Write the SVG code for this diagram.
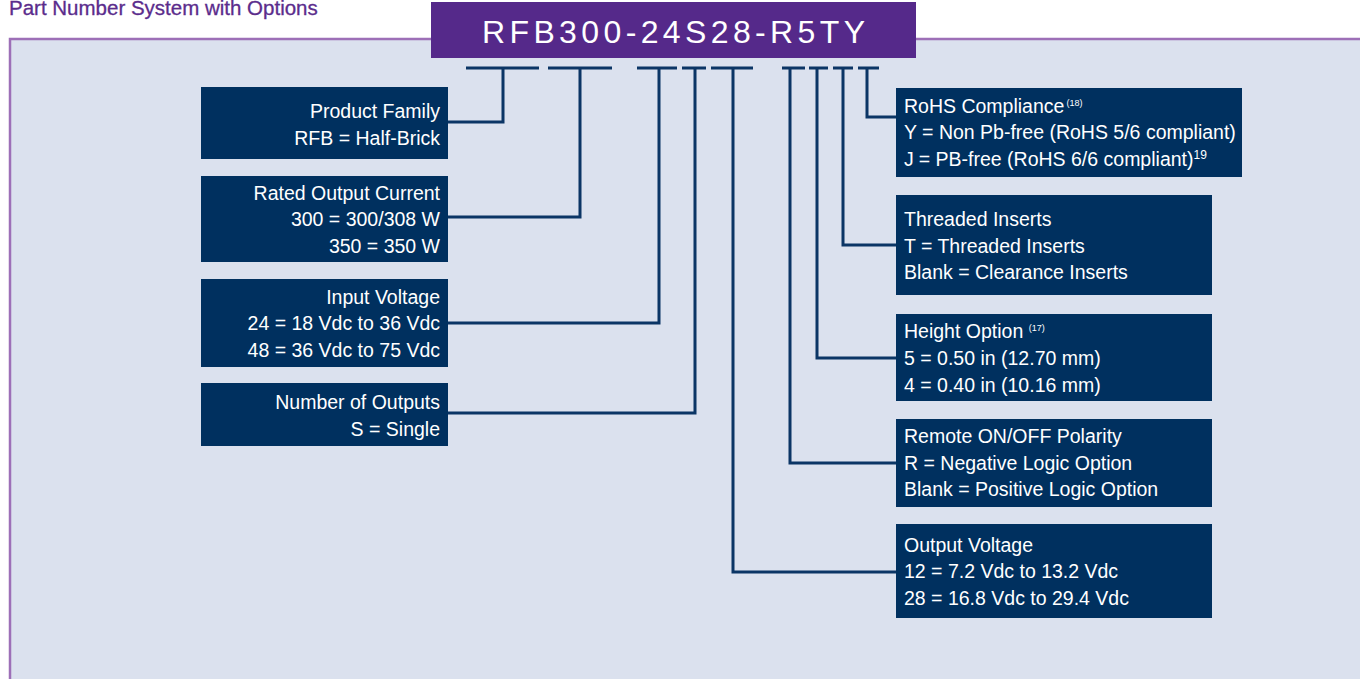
<svg xmlns="http://www.w3.org/2000/svg" width="1360" height="679" viewBox="0 0 1360 679">
<style>
.box{fill:#00305f}
.t{font-family:"Liberation Sans",Arial,sans-serif;font-size:19.5px;fill:#ffffff}
.r{text-anchor:end}
.sup{font-size:9px}
.sup2{font-size:12px}
.ln{fill:none;stroke:#0b3565;stroke-width:3}
</style>
<rect x="0" y="0" width="1360" height="679" fill="#ffffff"/>
<text x="9" y="15" font-family="'Liberation Sans',Arial,sans-serif" font-size="20.5" fill="#5b2c8c" stroke="#5b2c8c" stroke-width="0.3">Part Number System with Options</text>
<rect x="10" y="39" width="1352" height="645" fill="#dbe1ee" stroke="#9d6fb7" stroke-width="2.5"/>
<g id="header">
<rect x="431" y="2" width="485" height="56" fill="#55298a"/>
<text x="482" y="43" font-family="'Liberation Sans',Arial,sans-serif" font-size="32" fill="#ffffff" textLength="383" lengthAdjust="spacing">RFB300-24S28-R5TY</text>
</g>
<g id="connectors" class="ln">
<path d="M466 68H539M548 68H612M637 68H677M682 68H706M711 68H753M782 68H805M809 68H828M833 68H853M858 68H879"/>
<path d="M503 68V122H448"/>
<path d="M580 68V217H448"/>
<path d="M659 68V323H448"/>
<path d="M695 68V413H448"/>
<path d="M733 68V572H896"/>
<path d="M790 68V463H896"/>
<path d="M817 68V358H896"/>
<path d="M843 68V245H896"/>
<path d="M867 68V117H896"/>
</g>
<g id="product-family">
<rect class="box" x="201" y="87" width="247" height="72"/>
<text class="t r" x="440" y="118">Product Family</text>
<text class="t r" x="440" y="145">RFB = Half-Brick</text>
</g>
<g id="rated-output-current">
<rect class="box" x="201" y="176" width="247" height="86"/>
<text class="t r" x="440" y="200">Rated Output Current</text>
<text class="t r" x="440" y="226">300 = 300/308 W</text>
<text class="t r" x="440" y="253">350 = 350 W</text>
</g>
<g id="input-voltage">
<rect class="box" x="201" y="279" width="247" height="88"/>
<text class="t r" x="440" y="304">Input Voltage</text>
<text class="t r" x="440" y="330">24 = 18 Vdc to 36 Vdc</text>
<text class="t r" x="440" y="357">48 = 36 Vdc to 75 Vdc</text>
</g>
<g id="number-of-outputs">
<rect class="box" x="201" y="383" width="247" height="63"/>
<text class="t r" x="440" y="409">Number of Outputs</text>
<text class="t r" x="440" y="436">S = Single</text>
</g>
<g id="rohs">
<rect class="box" x="896" y="88" width="346" height="89"/>
<text class="t" x="904" y="113">RoHS Compliance<tspan class="sup" dx="2" dy="-7">(18)</tspan></text>
<text class="t" x="904" y="139">Y = Non Pb-free (RoHS 5/6 compliant)</text>
<text class="t" x="904" y="166">J<tspan dx="5">= PB-free (RoHS 6/6 compliant)</tspan><tspan class="sup2" dy="-7">19</tspan></text>
</g>
<g id="threaded-inserts">
<rect class="box" x="896" y="195" width="316" height="100"/>
<text class="t" x="904" y="226">Threaded Inserts</text>
<text class="t" x="904" y="253">T = Threaded Inserts</text>
<text class="t" x="904" y="279">Blank = Clearance Inserts</text>
</g>
<g id="height-option">
<rect class="box" x="896" y="314" width="316" height="87"/>
<text class="t" x="904" y="338">Height Option <tspan class="sup" dy="-7">(17)</tspan></text>
<text class="t" x="904" y="365">5 = 0.50 in (12.70 mm)</text>
<text class="t" x="904" y="392">4 = 0.40 in (10.16 mm)</text>
</g>
<g id="remote-on-off">
<rect class="box" x="896" y="419" width="316" height="88"/>
<text class="t" x="904" y="443">Remote ON/OFF Polarity</text>
<text class="t" x="904" y="470">R = Negative Logic Option</text>
<text class="t" x="904" y="496">Blank = Positive Logic Option</text>
</g>
<g id="output-voltage">
<rect class="box" x="896" y="524" width="316" height="94"/>
<text class="t" x="904" y="552">Output Voltage</text>
<text class="t" x="904" y="578">12 = 7.2 Vdc to 13.2 Vdc</text>
<text class="t" x="904" y="605">28 = 16.8 Vdc to 29.4 Vdc</text>
</g>
</svg>
